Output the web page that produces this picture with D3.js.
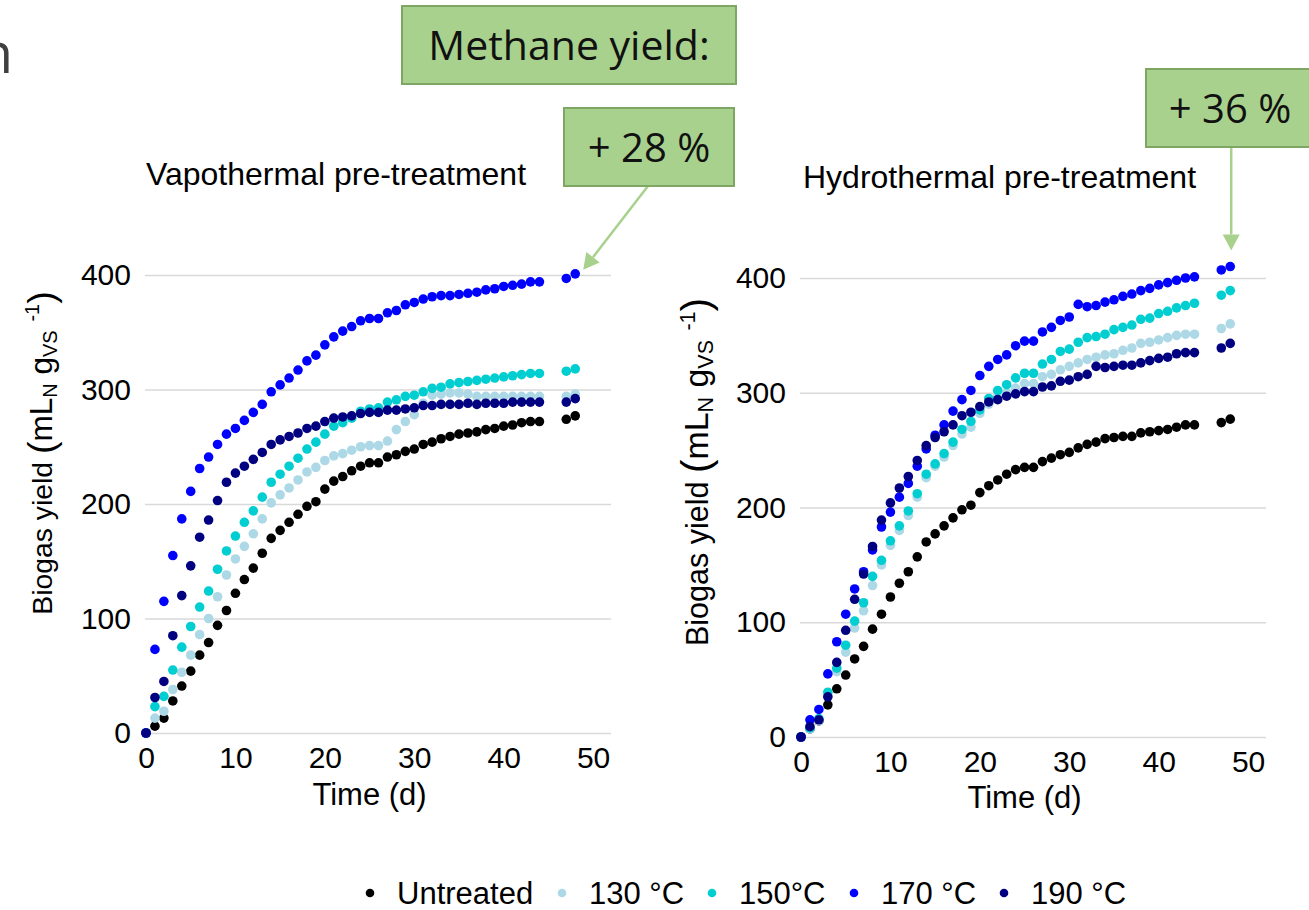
<!DOCTYPE html>
<html>
	<head>
		<meta charset="UTF-8" />
		<title>Biogas yield after pre-treatment</title>
		<style>
			html, body {
				margin: 0;
				padding: 0;
				overflow: hidden;
				background: #fff;
			}
			svg {
				display: block;
			}
			.chart text, .legend text {
				font-family: 'Liberation Sans', Arial, sans-serif;
				fill: #000;
			}
			.grid line {
				stroke: #d9d9d9;
				stroke-width: 1.3px;
			}
			.grid .domain {
				display: none;
			}
			.callout rect {
				fill: #a9d18e;
				stroke: #7ea664;
				stroke-width: 2px;
			}
			.callout text {
				font-family: 'Open Sans', sans-serif;
				fill: #111;
			}
		</style>
		<script src="https://cdn.jsdelivr.net/npm/d3@7"></script>
	</head>
	<body>
		<svg></svg>
		<script>
			// sampling days (same for both panels)
			const days = [0, 1, 2, 3, 4, 5, 6, 7, 8, 9, 10, 11, 12, 13, 14, 15, 16, 17, 18, 19, 20, 21, 22, 23, 24, 25, 26, 27, 28, 29, 30, 31, 32, 33, 34, 35, 36, 37, 38, 39, 40, 41, 42, 43, 44, 47, 48];

			const seriesNames = ['Untreated', '130 °C', '150°C', '170 °C', '190 °C'];
			const seriesColors = ['#000000', '#add8e6', '#00ced1', '#0000ff', '#000080'];

			// vapothermal pre-treatment, biogas yield (mLN gVS-1)
			const vapoUntreated = [0, 6, 13, 28, 41, 54, 68, 79, 94, 107, 122, 134, 144, 157, 170, 177, 184, 191, 198, 202, 213, 220, 224, 229, 233, 236, 236, 241, 243, 246, 248, 252, 254, 257, 259, 261, 262, 263, 265, 266, 268, 269, 271, 272, 272, 274, 277];
			const vapo130 = [0, 13, 19, 38, 53, 68, 86, 100, 119, 138, 152, 163, 174, 187, 201, 208, 214, 221, 228, 232, 238, 242, 244, 247, 250, 251, 251, 255, 265, 272, 278, 288, 295, 296, 297, 297, 296, 294, 294, 294, 294, 294, 294, 294, 294, 294, 296];
			const vapo150 = [0, 23, 32, 55, 75, 93, 110, 124, 143, 159, 172, 184, 194, 206, 219, 226, 233, 240, 248, 254, 261, 268, 271, 275, 281, 283, 284, 289, 291, 294, 295, 298, 301, 302, 305, 306, 307, 308, 309, 310, 311, 312, 313, 314, 314, 316, 318];
			const vapo170 = [0, 73, 115, 155, 187, 211, 231, 241, 252, 261, 266, 273, 280, 287, 298, 304, 310, 317, 325, 330, 339, 346, 351, 355, 360, 362, 362, 367, 369, 374, 376, 379, 381, 382, 382, 383, 384, 385, 387, 388, 390, 391, 392, 394, 394, 397, 401];
			const vapo190 = [0, 31, 45, 85, 120, 146, 171, 186, 203, 219, 227, 233, 239, 245, 252, 256, 259, 262, 266, 268, 272, 275, 276, 277, 279, 280, 280, 282, 282, 283, 284, 286, 286, 287, 287, 287, 288, 287, 288, 288, 288, 289, 289, 289, 289, 289, 292];

			// hydrothermal pre-treatment
			const hydroUntreated = [0, 7, 14, 28, 42, 54, 68, 79, 94, 107, 122, 134, 144, 157, 170, 177, 184, 191, 198, 202, 213, 219, 224, 229, 233, 235, 235, 240, 243, 246, 248, 252, 255, 257, 260, 261, 262, 262, 265, 266, 267, 268, 270, 272, 272, 274, 277];
			const hydro130 = [0, 7, 14, 36, 57, 74, 95, 110, 132, 150, 167, 180, 193, 209, 226, 236, 244, 254, 264, 270, 282, 290, 297, 300, 304, 308, 308, 314, 316, 320, 323, 326, 329, 331, 333, 334, 337, 339, 343, 344, 346, 348, 350, 351, 351, 356, 360];
			const hydro150 = [0, 8, 16, 39, 60, 80, 101, 117, 140, 154, 171, 184, 197, 212, 229, 238, 247, 257, 268, 275, 285, 295, 302, 307, 313, 317, 317, 325, 329, 336, 338, 344, 348, 349, 351, 355, 357, 359, 364, 365, 369, 371, 374, 376, 378, 385, 389];
			const hydro170 = [0, 15, 24, 55, 83, 107, 129, 144, 163, 183, 196, 209, 221, 236, 251, 263, 272, 284, 294, 302, 315, 323, 329, 333, 341, 345, 345, 353, 357, 363, 366, 377, 375, 376, 379, 381, 384, 386, 389, 391, 394, 396, 398, 400, 401, 407, 410];
			const hydro190 = [0, 9, 15, 35, 65, 93, 120, 142, 166, 189, 204, 217, 227, 241, 254, 261, 266, 272, 280, 283, 288, 292, 294, 297, 299, 301, 301, 305, 306, 310, 311, 314, 316, 323, 322, 323, 324, 324, 326, 328, 330, 331, 334, 335, 335, 339, 343];

			const xTicks = [0, 10, 20, 30, 40, 50];
			const yTicks = [0, 100, 200, 300, 400];

			document.addEventListener('DOMContentLoaded', () => {
				let width = 1309;
				let height = 910;
				let svg = d3.select('svg')
					.attr('width', width)
					.attr('height', height);

				let panels = [
					{ title: 'Vapothermal pre-treatment', data: [vapoUntreated, vapo130, vapo150, vapo170, vapo190],
						left: 145, right: 611, zero: 733, top: 275, titleX: 146, titleY: 185, labelX: 52, labelY: 453, labelScale: 1.05, timeY: 805 },
					{ title: 'Hydrothermal pre-treatment', data: [hydroUntreated, hydro130, hydro150, hydro170, hydro190],
						left: 800, right: 1266, zero: 737, top: 278, titleX: 803, titleY: 188, labelX: 708, labelY: 472, labelScale: 1.13, timeY: 808 }
				];

				// slide fragment in the top-left corner
				svg.append('text')
					.attr('x', 13)
					.attr('y', 73)
					.attr('text-anchor', 'end')
					.style('font-family', "'Open Sans', sans-serif")
					.style('font-size', '56px')
					.style('fill', '#404040')
					.text('n');

				panels.forEach(p => {
					let g = svg.append('g').attr('class', 'chart');

					let x = d3.scaleLinear().domain([0, 52]).range([p.left + 1, p.right]);
					let y = d3.scaleLinear().domain([0, 400]).range([p.zero, p.top]);
					p.x = x;
					p.y = y;

					g.append('g')
						.attr('class', 'grid')
						.attr('transform', `translate(${p.left},0)`)
						.call(d3.axisLeft(y).tickValues(yTicks).tickSizeInner(-(p.right - p.left)).tickSizeOuter(0).tickPadding(14))
						.call(a => a.selectAll('text').style('font-size', '30px'));

					g.append('g')
						.attr('class', 'grid')
						.attr('transform', `translate(0,${p.zero})`)
						.call(d3.axisBottom(x).tickValues(xTicks).tickSize(0).tickPadding(14))
						.call(a => a.selectAll('text').style('font-size', '30px'));

					g.append('text')
						.attr('x', p.titleX)
						.attr('y', p.titleY)
						.style('font-size', '32px')
						.text(p.title);

					g.append('text')
						.attr('x', x(25))
						.attr('y', p.timeY)
						.attr('text-anchor', 'middle')
						.style('font-size', '31px')
						.text('Time (d)');

					let s = p.labelScale;
					let lab = g.append('text')
						.attr('transform', `translate(${p.labelX},${p.labelY}) rotate(-90)`)
						.attr('text-anchor', 'middle')
						.style('font-size', (27 * s) + 'px');
					lab.append('tspan').text('Biogas yield ');
					lab.append('tspan').style('font-size', (36 * s) + 'px').attr('dy', 2).text('(');
					lab.append('tspan').style('font-size', (30 * s) + 'px').attr('dy', -2).text('mL');
					lab.append('tspan').style('font-size', (19 * s) + 'px').attr('dy', 5).text('N');
					lab.append('tspan').style('font-size', (30 * s) + 'px').attr('dy', -5).text(' g');
					lab.append('tspan').style('font-size', (19 * s) + 'px').attr('dy', 5).text('VS');
					lab.append('tspan').style('font-size', (30 * s) + 'px').attr('dy', -5).text(' ');
					lab.append('tspan').style('font-size', (19 * s) + 'px').attr('dy', -13).text('-1');
					lab.append('tspan').style('font-size', (36 * s) + 'px').attr('dy', 15).text(')');

					p.data.forEach((values, i) => {
						g.append('g')
							.selectAll('circle')
							.data(values)
							.enter().append('circle')
							.attr('cx', (d, j) => x(days[j]))
							.attr('cy', d => y(d))
							.attr('r', 4.8)
							.attr('fill', seriesColors[i]);
					});
				});

				// callouts
				let callouts = [
					{ text: 'Methane yield:', x: 402, y: 6, w: 334, h: 78, size: 41 },
					{ text: '+ 28 %', x: 564, y: 108, w: 170, h: 78, size: 40 },
					{ text: '+ 36 %', x: 1146, y: 69, w: 168, h: 78, size: 40 }
				];

				let green = svg.append('g').attr('class', 'callout');

				// arrows from the percentage boxes to the 170 °C end points
				let vp = panels[0], hp = panels[1];
				let tipA = [vp.x(48) + 8, vp.y(401) - 4];
				let tipB = [hp.x(48) + 1, hp.y(410) - 16];
				let arrows = [
					{ from: [648, 186], to: tipA },
					{ from: [tipB[0], 147], to: tipB }
				];
				arrows.forEach(a => {
					let dx = a.to[0] - a.from[0];
					let dy = a.to[1] - a.from[1];
					let len = Math.sqrt(dx * dx + dy * dy);
					let ux = dx / len, uy = dy / len;
					let headLen = 16, headW = 8.5;
					let bx = a.to[0] - ux * headLen, by = a.to[1] - uy * headLen;
					green.append('line')
						.attr('x1', a.from[0]).attr('y1', a.from[1])
						.attr('x2', bx).attr('y2', by)
						.attr('stroke', '#a9d18e')
						.attr('stroke-width', 2.5);
					green.append('path')
						.attr('d', `M${a.to[0]},${a.to[1]}L${bx - uy * headW},${by + ux * headW}L${bx + uy * headW},${by - ux * headW}Z`)
						.attr('fill', '#a9d18e')
						.attr('stroke', 'none');
				});

				callouts.forEach(c => {
					green.append('rect')
						.attr('x', c.x).attr('y', c.y)
						.attr('width', c.w).attr('height', c.h);
					green.append('text')
						.attr('x', c.x + c.w / 2)
						.attr('y', c.y + c.h / 2 + 15)
						.attr('text-anchor', 'middle')
						.style('font-size', c.size + 'px')
						.text(c.text);
				});

				// legend
				let legendDots = [370, 562, 712, 854, 1004];
				let legend = svg.append('g').attr('class', 'legend');
				seriesNames.forEach((name, i) => {
					legend.append('circle')
						.attr('cx', legendDots[i])
						.attr('cy', 893)
						.attr('r', 4.3)
						.attr('fill', seriesColors[i]);
					legend.append('text')
						.attr('x', legendDots[i] + 27)
						.attr('y', 904)
						.style('font-size', '31px')
						.text(name);
				});
			});
		</script>
	</body>
</html>
